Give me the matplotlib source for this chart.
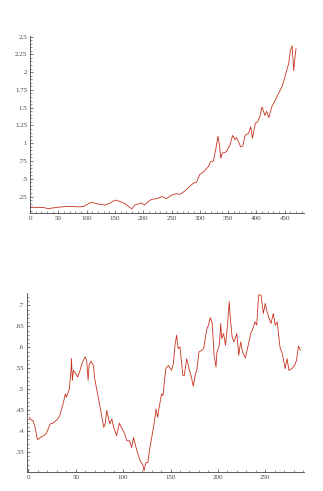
import matplotlib
matplotlib.use("Agg")
import matplotlib.pyplot as plt
from matplotlib.ticker import MultipleLocator, FuncFormatter

# top series
top_x = [1, 24, 32, 50, 65, 88, 94, 103, 109, 118, 124, 132, 141, 150, 159,
         168, 174, 180, 185, 197, 202, 209, 215, 224, 233, 241, 250, 259, 265,
         274, 283, 289, 294, 300, 307, 315, 319, 324, 329, 332, 335, 337, 340,
         347, 353, 358, 362, 365, 369, 372, 376, 380, 386, 390, 393, 398, 402,
         406, 410, 415, 418, 422, 427, 433, 439, 445, 450, 453, 457, 460, 463,
         466, 467, 470]
top_y = [0.10, 0.095, 0.08, 0.10, 0.11, 0.105, 0.11, 0.147, 0.17, 0.147, 0.14,
         0.13, 0.157, 0.20, 0.18, 0.15, 0.11, 0.077, 0.13, 0.16, 0.13, 0.18,
         0.21, 0.22, 0.25, 0.22, 0.27, 0.29, 0.28, 0.33, 0.40, 0.44, 0.45,
         0.56, 0.60, 0.67, 0.74, 0.75, 0.95, 1.10, 0.95, 0.79, 0.86, 0.88,
         0.97, 1.11, 1.05, 1.08, 1.01, 0.95, 0.96, 1.11, 1.14, 1.23, 1.07,
         1.28, 1.30, 1.37, 1.51, 1.39, 1.45, 1.36, 1.51, 1.60, 1.70, 1.79,
         1.92, 2.01, 2.12, 2.30, 2.37, 2.02, 2.12, 2.33]

# bottom series
bot_x = [1, 2.5, 5, 7, 9, 10, 12, 16, 19, 23, 26, 31, 33, 37, 39, 40, 43, 45,
         45.4, 46.4, 47.5, 50, 52, 54.5, 57, 60, 61.5, 63, 64, 66, 68.6, 70,
         73, 75, 77, 79.5, 81, 82.6, 86, 88, 90, 93, 96, 98, 101, 104, 106.5,
         109, 111, 114, 118, 120.6, 122, 124, 126, 128, 132, 133.6, 134.7,
         136.4, 138, 140.6, 142, 145, 147.7, 151, 153, 154.7, 156.5, 158, 160,
         163, 164.6, 167, 170, 172, 174, 176, 178, 180, 183, 185, 188, 190,
         192, 194, 196, 198, 199, 201.5, 203, 204, 206, 208, 210, 212, 213,
         215, 217, 220, 222, 224, 226, 229, 232, 234.6, 237, 239, 241, 243,
         245.5, 248, 250, 251.4, 253.5, 256, 258.5, 260.5, 262.6, 265.5, 268,
         271, 273, 275, 278, 281, 283, 285, 287]
bot_y = [0.433, 0.427, 0.425, 0.409, 0.385, 0.379, 0.384, 0.389, 0.395, 0.417,
         0.419, 0.429, 0.437, 0.469, 0.489, 0.481, 0.499, 0.545, 0.573, 0.521,
         0.545, 0.537, 0.529, 0.545, 0.565, 0.577, 0.569, 0.521, 0.557, 0.567,
         0.557, 0.525, 0.489, 0.465, 0.441, 0.409, 0.417, 0.449, 0.417, 0.429,
         0.409, 0.389, 0.419, 0.409, 0.397, 0.377, 0.377, 0.361, 0.385, 0.357,
         0.329, 0.320, 0.305, 0.325, 0.325, 0.357, 0.409, 0.433, 0.453, 0.433,
         0.457, 0.489, 0.485, 0.549, 0.557, 0.545, 0.561, 0.605, 0.629, 0.597,
         0.601, 0.533, 0.533, 0.573, 0.545, 0.529, 0.507, 0.533, 0.549, 0.589,
         0.593, 0.597, 0.641, 0.653, 0.671, 0.657, 0.581, 0.553, 0.589, 0.605,
         0.657, 0.621, 0.633, 0.605, 0.649, 0.709, 0.673, 0.625, 0.613, 0.633,
         0.581, 0.613, 0.589, 0.575, 0.605, 0.633, 0.645, 0.661, 0.653, 0.725,
         0.725, 0.681, 0.705, 0.689, 0.673, 0.657, 0.681, 0.653, 0.661, 0.601,
         0.585, 0.549, 0.573, 0.545, 0.549, 0.557, 0.569, 0.603, 0.593]

LINE = "#c8321e"
AXIS = "#444444"


def dotless(v, pos):
    s = f"{v:g}"
    if s.startswith("0."):
        s = s[1:]
    return s


def style(ax, xmaj, xmin, ymaj, ymin):
    for side in ("top", "right"):
        ax.spines[side].set_visible(False)
    for side in ("left", "bottom"):
        ax.spines[side].set_color(AXIS)
        ax.spines[side].set_linewidth(0.6)
    ax.xaxis.set_major_locator(MultipleLocator(xmaj))
    ax.xaxis.set_minor_locator(MultipleLocator(xmin))
    ax.yaxis.set_major_locator(MultipleLocator(ymaj))
    ax.yaxis.set_minor_locator(MultipleLocator(ymin))
    ax.yaxis.set_major_formatter(FuncFormatter(dotless))
    ax.xaxis.set_major_formatter(FuncFormatter(dotless))
    ax.tick_params(which="major", direction="in", length=2.5, width=0.5,
                   colors=AXIS, labelsize=5, pad=2)
    ax.tick_params(which="minor", direction="in", length=1.3, width=0.4,
                   colors=AXIS)


fig = plt.figure(figsize=(3.23, 4.91), dpi=100)

ax1 = fig.add_axes([0.093, 0.566, 0.848, 0.361])
ax1.plot(top_x, top_y, color=LINE, lw=0.6)
ax1.set_xlim(0, 484)
ax1.set_ylim(0.017, 2.51)
style(ax1, 50, 10, 0.25, 0.05)

ax2 = fig.add_axes([0.083, 0.038, 0.8585, 0.3646])
ax2.plot(bot_x, bot_y, color=LINE, lw=0.6)
ax2.set_xlim(-1.7, 291)
ax2.set_ylim(0.3015, 0.729)
style(ax2, 50, 10, 0.05, 0.01)

for ax in (ax1, ax2):
    for lab in ax.get_xticklabels() + ax.get_yticklabels():
        lab.set_family("Liberation Serif")

fig.savefig("out.png", dpi=100)
